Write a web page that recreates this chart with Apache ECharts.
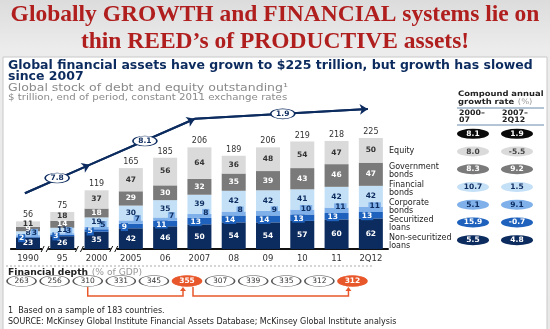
<!DOCTYPE html>
<html><head><meta charset="utf-8">
<script src="https://cdn.jsdelivr.net/npm/echarts@6/dist/echarts.min.js"></script>
<style>html,body{margin:0;padding:0;background:#fff;}#c{width:550px;height:329px;}</style>
</head><body><div id="c"></div>
<script>
// ---------- DATA ----------
const categories = ['1990','95','2000','2005','06','2007','08','09','10','11','2Q12'];
const nonSecuritizedLoans = [23,26,35,42,46,50,54,54,57,60,62];
const securitizedLoans    = [2,3,5,9,11,13,14,14,13,13,13];
const corporateBonds      = [3,3,5,7,7,8,8,9,10,11,11];
const financialBonds      = [8,11,19,30,35,39,42,42,41,42,42];
const governmentBonds     = [9,14,18,29,30,32,35,39,43,46,47];
const equity              = [11,18,37,47,56,64,36,48,54,47,50];
const totals              = [56,75,119,165,185,206,189,206,219,218,225];
const financialDepth      = [263,256,310,331,345,355,307,339,335,312,312];
const depthHighlight      = [5,10];
const cagrRows    = ['Total','Equity','Government bonds','Financial bonds','Corporate bonds','Securitized loans','Non-securitized loans'];
const cagrPeriods = ['2000–07','2007–2Q12'];
const cagr2000to07   = [8.1,8.0,8.3,10.7,5.1,15.9,5.5];
const cagr2007to2Q12 = [1.9,-5.5,9.2,1.5,9.1,-0.7,4.8];
// growth arrow path (x = category position, y = $ trillion scale)
const growthPath   = [[-0.09,113],[1.81,171],[4.87,264],[9.91,284]];
const growthLabels = [[0.85,144,'7.8'],[3.41,219,'8.1'],[7.43,274,'1.9']];

// ---------- STYLE ----------
const NAVY='#0c2b5e';
const segNames  = ['Non-securitized loans','Securitized loans','Corporate bonds','Financial bonds','Government bonds','Equity'];
const segData   = [nonSecuritizedLoans,securitizedLoans,corporateBonds,financialBonds,governmentBonds,equity];
const segColors = ['#0c2b5e','#1e62bd','#7fb0ea','#c4e0f7','#7a7a7a','#dadada'];
const segText   = ['#ffffff','#ffffff','#0c2b5e','#0c2b5e','#ffffff','#333333'];
const F='DejaVu Sans, Verdana, sans-serif';

const chart = echarts.init(document.getElementById('c'), null, {renderer:'canvas'});

const barSeries = segData.map((d,k)=>{
  const small = (k===1||k===2);
  return {
    type:'bar', name:segNames[k], stack:'t', xAxisIndex:0, yAxisIndex:0, barWidth:24,
    data:d, itemStyle:{color:segColors[k]}, z:2,
    label:{show:true, position: k===1?'insideLeft':(k===2?'insideRight':'inside'),
      offset: k===1?[-3,1]:(k===2?[3,-3]:[0,0]),
      color:segText[k], fontSize:7.5, fontWeight:'bold', fontFamily:F,
      backgroundColor: small?segColors[k]:'transparent', padding: small?[0,1]:0}
  };
});
barSeries.push({
  type:'bar', stack:'t', xAxisIndex:0, yAxisIndex:0, barWidth:24,
  data: totals.map(()=>0), itemStyle:{color:'transparent'},
  label:{show:true, position:'top', distance:2, formatter:p=>totals[p.dataIndex], color:'#333', fontSize:8, fontFamily:F}
});

const rowColors = ['#0a0a0a','#dadada','#7a7a7a','#c4e0f7','#7fb0ea','#1e62bd','#0c2b5e'];
const rowText   = ['#fff','#444','#fff','#0c2b5e','#0c2b5e','#fff','#fff'];
const cagrData = [];
cagrRows.forEach((r,i)=>{
  [cagr2000to07[i],cagr2007to2Q12[i]].forEach((v,j)=>{
    cagrData.push({value:[j,i,v], itemStyle:{color:rowColors[i]}, label:{color:rowText[i]}});
  });
});

const depthData = financialDepth.map((v,i)=>{
  const hi = depthHighlight.includes(i);
  return {value:[i,0,v], itemStyle:{color:hi?'#e8572a':'#fff', borderColor:hi?'#e8572a':'#555'},
          label:{color:hi?'#fff':'#333', fontWeight:hi?'bold':'normal'}};
});

const T = (text,x,y,font,fill,align,sx)=>({type:'text', x, y, z:10, scaleX:sx||1,
  style:{text, font, fill, textAlign:align||'left', textVerticalAlign:'middle'}});

const legendY = [[151],[167,175],[185,193],[203,211],[220,228],[238,246]];
const legendTxt = [['Equity'],['Government','bonds'],['Financial','bonds'],['Corporate','bonds'],['Securitized','loans'],['Non-securitized','loans']];
const legendGraphics = [];
legendTxt.forEach((lines,i)=>lines.forEach((t,j)=>legendGraphics.push(T(t,389,legendY[i][j],'8px '+F,'#222'))));

const HF='bold 7.5px '+F;
const option = {
  animation:false,
  backgroundColor:{type:'linear',x:0,y:0,x2:0,y2:1,colorStops:[{offset:0,color:'#dcdcdc'},{offset:0.15,color:'#ececec'},{offset:1,color:'#e8e8e8'}]},
  grid:[
    {left:10.85, right:162, top:101, bottom:80},
    {left:451, right:11, top:125, height:124},
    {left:5, right:181, top:275, height:12}
  ],
  xAxis:[
    {type:'category', gridIndex:0, data:categories, axisTick:{show:false},
     axisLine:{lineStyle:{color:'#111',width:2}},
     axisLabel:{color:'#333',fontSize:8.5,fontFamily:F,margin:5}},
    {type:'value', gridIndex:0, min:-0.5, max:10.5, show:false},
    {type:'category', gridIndex:1, data:cagrPeriods, show:false},
    {type:'category', gridIndex:2, data:categories, show:false}
  ],
  yAxis:[
    {type:'value', gridIndex:0, min:0, max:300, show:false},
    {type:'category', gridIndex:1, data:cagrRows, inverse:true, show:false},
    {type:'category', gridIndex:2, data:['depth'], show:false}
  ],
  series:[
    ...barSeries,
    {type:'line', xAxisIndex:1, yAxisIndex:0, data:growthPath, symbol:'none', z:5,
     lineStyle:{color:NAVY,width:2},
     markLine:{silent:true, symbol:['none','arrow'], symbolSize:8, label:{show:false},
       lineStyle:{color:NAVY,width:2,type:'solid'},
       data: growthPath.slice(1).map((p,i)=>[{coord:growthPath[i]},{coord:p}])}},
    {type:'scatter', xAxisIndex:1, yAxisIndex:0, data:growthLabels, symbol:'circle', symbolSize:[24,10], z:6,
     itemStyle:{color:'#fff',borderColor:NAVY,borderWidth:1,opacity:1},
     label:{show:true,position:'inside',formatter:p=>p.value[2],color:NAVY,fontSize:7.5,fontWeight:'bold',fontFamily:F}},
    {type:'scatter', xAxisIndex:2, yAxisIndex:1, data:cagrData, symbol:'circle', symbolSize:[32,10],
     itemStyle:{opacity:1},
     label:{show:true,position:'inside',formatter:p=>p.value[2].toFixed(1),fontSize:7.5,fontWeight:'bold',fontFamily:F}},
    {type:'scatter', xAxisIndex:3, yAxisIndex:2, data:depthData, symbol:'circle', symbolSize:[29,11],
     itemStyle:{borderWidth:1,opacity:1},
     label:{show:true,position:'inside',formatter:p=>p.value[2],fontSize:7.5,fontFamily:F}}
  ],
  graphic:[
    {type:'rect', z:-1, shape:{x:3,y:57,width:544,height:280}, style:{fill:'#fff',stroke:'#c8c8c8',lineWidth:1}},
    T('Globally GROWTH and FINANCIAL systems lie on',275,15,'bold 23.5px Liberation Serif, Times New Roman, serif','#b01e1e','center'),
    T('thin REED’s of PRODUCTIVE assets!',275,42,'bold 23.5px Liberation Serif, Times New Roman, serif','#b01e1e','center'),
    T('Global financial assets have grown to $225 trillion, but growth has slowed',8,66,'bold 12.5px '+F,NAVY),
    T('since 2007',8,77,'bold 12.5px '+F,NAVY),
    T('Global stock of debt and equity outstanding¹',8,88,'10px '+F,'#8a8a8a','left',1.25),
    T('$ trillion, end of period, constant 2011 exchange rates',8,98,'9.3px '+F,'#8a8a8a','left',1.1),
    T('Compound annual',458,94,HF,'#222','left',1.12),
    {type:'text', x:458, y:102, z:10, scaleX:1.12, style:{text:'{a|growth rate} {b|(%)}', textVerticalAlign:'middle',
      rich:{a:{font:HF,fill:'#222'},b:{font:'7.5px '+F,fill:'#999'}}}},
    {type:'line', shape:{x1:457,y1:108,x2:544,y2:108}, style:{stroke:'#6a8ab0',lineWidth:1}},
    T('2000–',459,113,HF,'#222','left',1.05),
    T('07',459,120,HF,'#222','left',1.05),
    T('2007–',502,113,HF,'#222','left',1.05),
    T('2Q12',502,120,HF,'#222','left',1.05),
    {type:'line', shape:{x1:457,y1:125,x2:544,y2:125}, style:{stroke:'#6a8ab0',lineWidth:1}},
    ...legendGraphics,
    {type:'line', shape:{x1:6,y1:266,x2:372,y2:266}, style:{stroke:'#aaa',lineWidth:1,lineDash:[2,2]}},
    {type:'text', x:8, y:273, z:10, scaleX:1.08, style:{text:'{a|Financial depth} {b|(% of GDP)}', textVerticalAlign:'middle',
      rich:{a:{font:'bold 8.5px '+F,fill:'#222'},b:{font:'8.5px '+F,fill:'#999'}}}},
    T('1  Based on a sample of 183 countries.',8,311,'8px '+F,'#222'),
    T('SOURCE: McKinsey Global Institute Financial Assets Database; McKinsey Global Institute analysis',8,322,'8px '+F,'#222')
  ]
};
chart.setOption(option);

// decorations positioned through the library's own axes
const extra = [];
const baseY = chart.convertToPixel({yAxisIndex:0}, 0);
[0.5,1.5,2.5].forEach(b=>{
  const x = chart.convertToPixel({xAxisIndex:1}, b);
  extra.push({type:'rect', shape:{x:x-3,y:baseY-3,width:6,height:6}, style:{fill:'#fff'}, z:20});
  extra.push({type:'line', shape:{x1:x-4,y1:baseY+3,x2:x-1,y2:baseY-3}, style:{stroke:'#111',lineWidth:1}, z:21});
  extra.push({type:'line', shape:{x1:x+1,y1:baseY+3,x2:x+4,y2:baseY-3}, style:{stroke:'#111',lineWidth:1}, z:21});
});
const dx = i=>chart.convertToPixel({xAxisIndex:3}, i);
const dy = chart.convertToPixel({yAxisIndex:2}, 0);
const OR='#e8572a';
function bracket(from,to,offFrom,offTo){
  const x1=dx(from)+offFrom, x2=dx(to)+offTo, yb=dy+15, yt=dy+6;
  extra.push({type:'polyline', shape:{points:[[x1,yt],[x1,yb],[x2,yb],[x2,yt+2]]}, style:{stroke:OR,lineWidth:1.5,fill:null}, z:20});
  extra.push({type:'polygon', shape:{points:[[x2-3,yt+4],[x2+3,yt+4],[x2,yt]]}, style:{fill:OR}, z:20});
}
bracket(2,5,0,-4);
bracket(5,10,6,-4);
chart.setOption({graphic: option.graphic.concat(extra)});
</script></body></html>
